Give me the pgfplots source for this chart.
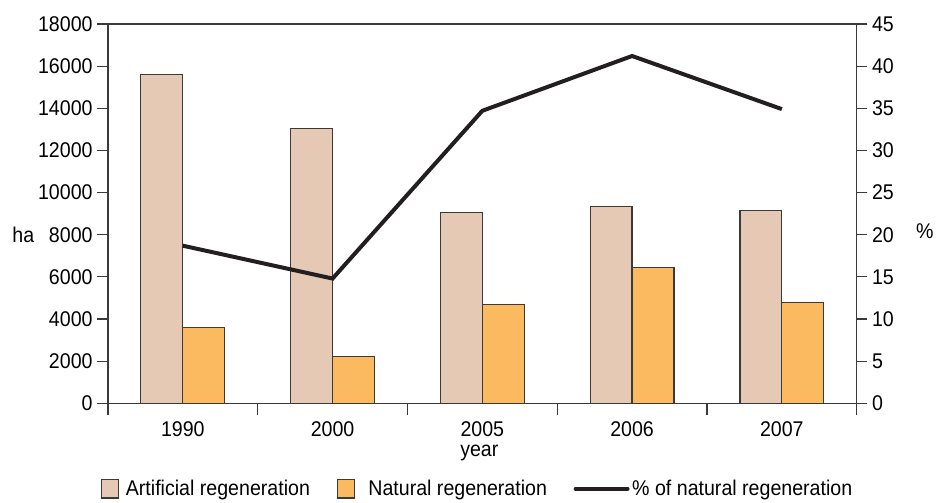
\documentclass[border=0pt]{standalone}
\usepackage{pgfplots}
\pgfplotsset{compat=1.18}
\usepackage{fontspec}
\setmainfont{Liberation Sans}[FakeStretch=0.92]

\definecolor{artif}{HTML}{E6C9B4}
\definecolor{natur}{HTML}{FBB960}
\definecolor{edge}{HTML}{3A3A3A}
\definecolor{lineblk}{HTML}{231F20}

\pgfplotsset{
  boxleg/.style={legend image code/.code={\draw[##1] (0pt,-7pt) rectangle (13pt,7pt);}},
  lineleg/.style={legend image code/.code={\draw[##1] (0pt,0pt) -- (39pt,0pt);}},
}

\begin{document}
\begin{tikzpicture}
\pgfplotsset{
  every axis/.append style={
    scale only axis,
    width=562.5pt,
    height=285pt,
    xmin=-0.5, xmax=4.5,
    ymin=0,
    font=\fontsize{16}{18}\selectfont,
    /pgf/number format/assume math mode=true,
    /pgf/number format/1000 sep={},
    axis line style={draw=edge, line width=0.9pt},
    tick style={draw=edge, line width=0.9pt},
    tick align=outside,
    major tick length=8pt,
    minor tick length=9pt,
  },
}
\begin{axis}[
  name=main,
  ymax=18000,
  ytick distance=2000,
  ytick pos=left,
  scaled y ticks=false,
  xtick={0,1,2,3,4},
  xticklabels={1990,2000,2005,2006,2007},
  major x tick style={draw=none},
  minor xtick={-0.5,0.5,1.5,2.5,3.5,4.5},
  xtick pos=bottom,
  x tick label style={yshift=-2pt},
  xlabel={year},
  xlabel style={at={(axis description cs:0.496,-0.13)}, anchor=center},
  ylabel={ha},
  ylabel style={rotate=-90, at={(axis description cs:-0.113,0.445)}, anchor=center},
  legend style={draw=none, legend columns=3,
    at={(axis description cs:0.494,-0.225)}, anchor=center,
    /tikz/every even column/.append style={column sep=18pt},
    nodes={inner sep=2pt}},
]
\addplot[ybar, bar width=0.28, bar shift=-0.14, fill=artif, draw=edge, line width=0.9pt, boxleg]
  coordinates {(0,15600) (1,13050) (2,9050) (3,9330) (4,9140)};
\addlegendentry{\hspace{3pt}Artificial regeneration}
\addplot[ybar, bar width=0.28, bar shift=0.14, fill=natur, draw=edge, line width=0.9pt, boxleg]
  coordinates {(0,3600) (1,2230) (2,4690) (3,6440) (4,4780)};
\addlegendentry{\hspace{8pt}Natural regeneration}
\addlegendimage{line width=3pt, lineblk, line cap=round, lineleg}
\addlegendentry{\% of natural regeneration}
\end{axis}

\begin{axis}[
  ymax=45,
  ytick distance=5,
  axis y line*=right,
  axis x line=none,
  ylabel={\%},
  ylabel style={rotate=-90, at={(axis description cs:1.091,0.455)}, anchor=center},
]
\addplot[line width=3pt, lineblk] coordinates {(0,18.7) (1,14.8) (2,34.7) (3,41.2) (4,34.9)};
\end{axis}
% empty room above and left of the plot, as in the reference
\path (main.outer north west) ++(-6pt,9pt);
\end{tikzpicture}
\end{document}
